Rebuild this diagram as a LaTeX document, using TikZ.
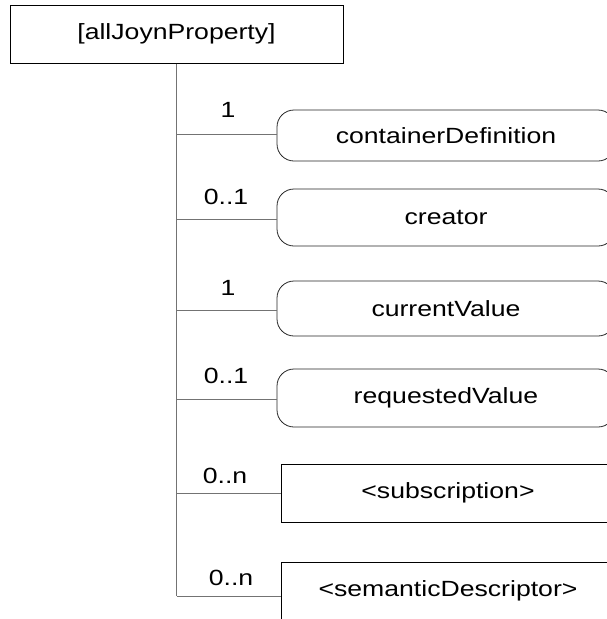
\documentclass[tikz,border=0pt]{standalone}
\usepackage{fontspec}
\setmainfont[FakeStretch=1.21]{Liberation Sans}
\begin{document}
\begin{tikzpicture}[x=1pt,y=-1pt,
  every node/.style={font=\fontsize{22}{26}\selectfont, text=black},
  plainbox/.style={draw=black, line width=1pt, inner sep=0pt},
  roundbox/.style={draw=black!85, line width=0.8pt, rounded corners=17pt, inner sep=0pt},
  conn/.style={draw=black!55, line width=0.9pt},
  mult/.style={inner sep=0pt}]
\useasboundingbox (0,0) rectangle (607,619);
\clip (0,0) rectangle (607,619);
\node[plainbox, minimum width=333pt, minimum height=58pt] (top) at (176.5,34) {[allJoynProperty]};
\node[roundbox, minimum width=338pt, minimum height=51pt] (cd) at (446,135.5) {containerDefinition};
\node[roundbox, minimum width=338pt, minimum height=57pt] (cr) at (446,217.5) {creator};
\node[roundbox, minimum width=338pt, minimum height=55pt] (cv) at (446,308.5) {currentValue};
\node[roundbox, minimum width=338pt, minimum height=58pt] (rv) at (446,398) {requestedValue};
\node[plainbox, minimum width=334pt, minimum height=58pt] (sub) at (448,493) {<subscription>};
\node[plainbox, minimum width=334pt, minimum height=58pt] (sd) at (448,591) {<semanticDescriptor>};
\coordinate (bend) at (top.south |- 0,596);
\draw[conn] (top.south) -- (bend);
\draw[conn] (top.south |- 0,134) -- (cd.west |- 0,134);
\draw[conn] (top.south |- 0,219) -- (cr.west |- 0,219);
\draw[conn] (top.south |- 0,310) -- (cv.west |- 0,310);
\draw[conn] (top.south |- 0,399) -- (rv.west |- 0,399);
\draw[conn] (top.south |- 0,493) -- (sub.west);
\draw[conn] (bend) -- (sd.west |- bend);
\node[mult] (m1) at (228,110) {1};
\node[mult] (m2) at (226,197) {0..1};
\node[mult] (m3) at (228,288) {1};
\node[mult] (m4) at (226,376) {0..1};
\node[mult] (m5) at (225,476) {0..n};
\node[mult] (m6) at (231,578) {0..n};
\end{tikzpicture}
\end{document}
